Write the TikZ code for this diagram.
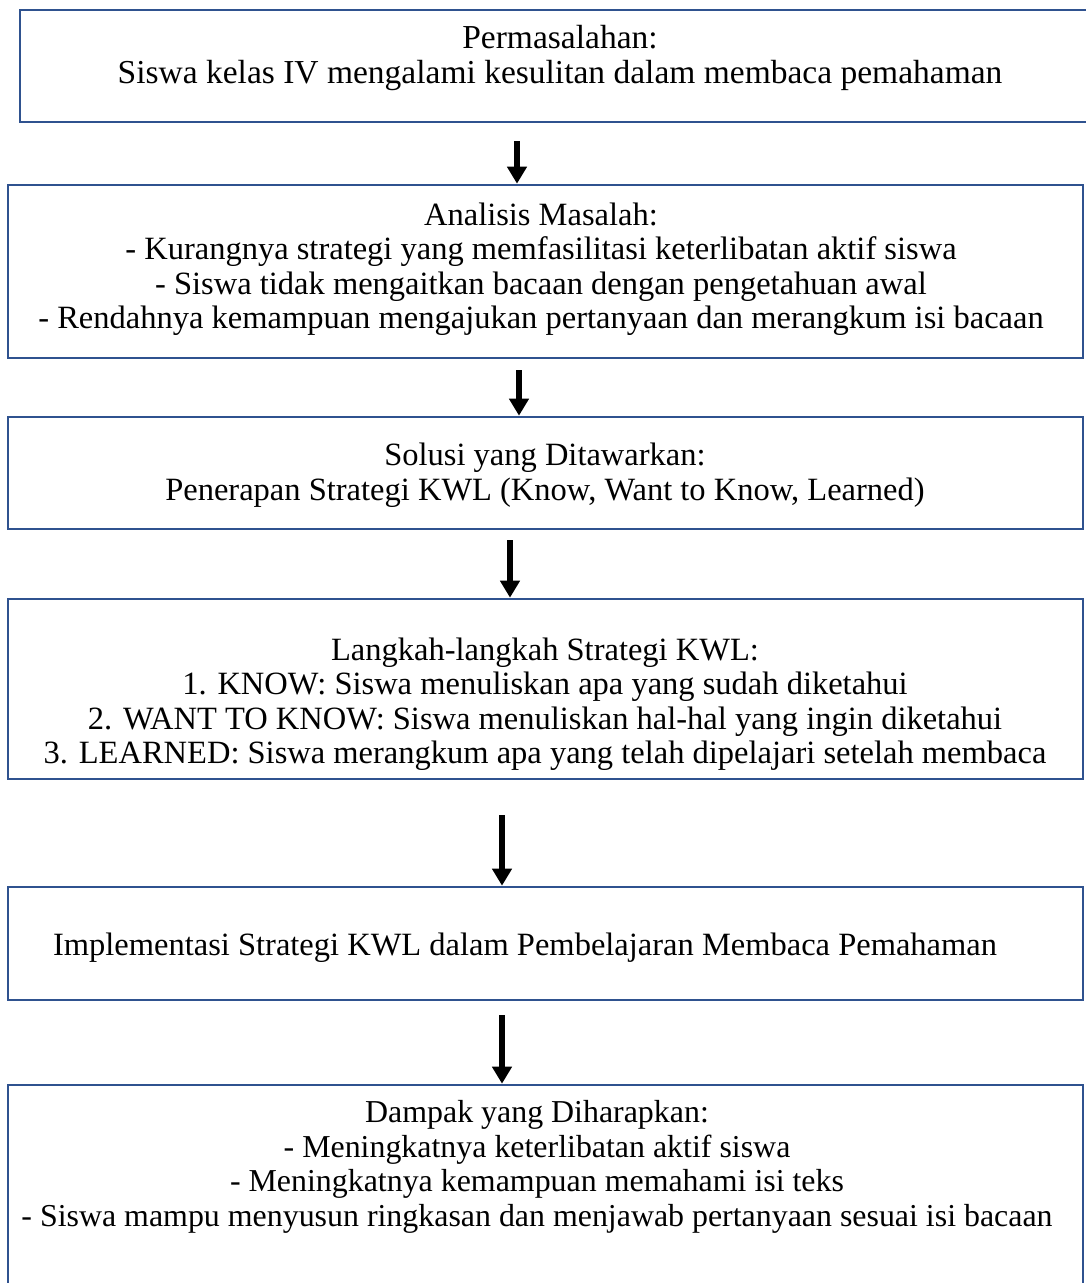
\documentclass[tikz,border=0pt]{standalone}
\usepackage{fontspec}
\setmainfont{Liberation Serif}
\usetikzlibrary{arrows.meta}
\definecolor{boxblue}{HTML}{2F528F}
\begin{document}
\begin{tikzpicture}[x=1pt,y=-1pt,
  boxframe/.style={draw=boxblue,line width=2.6pt,inner sep=0pt},
  boxtext/.style={align=center,inner sep=0pt,font=\fontsize{32.5}{34.5}\selectfont},
  arr/.style={line width=5.5pt,-{Triangle[width=19pt,length=17pt]}}]
\useasboundingbox (0,0) rectangle (1086,1283);
\begin{scope}
\clip (0,0) rectangle (1086,1283);
% boxes
\node[boxframe,minimum width=1075pt,minimum height=112pt] (b1) at (557.5,66) {};
\node[boxframe,minimum width=1075pt,minimum height=173pt] (b2) at (545.5,271.5) {};
\node[boxframe,minimum width=1075pt,minimum height=112pt] (b3) at (545.5,473) {};
\node[boxframe,minimum width=1075pt,minimum height=180pt] (b4) at (545.5,689) {};
\node[boxframe,minimum width=1075pt,minimum height=113pt] (b5) at (545.5,943.5) {};
\node[boxframe,minimum width=1075pt,minimum height=260pt] (b6) at (545.5,1215) {};
\end{scope}
% texts
\node[boxtext,font=\fontsize{33.5}{34.5}\selectfont] (t1) at (560,58) {Permasalahan:\\Siswa kelas IV mengalami kesulitan dalam membaca pemahaman};
\node[boxtext] (t2) at (541,269) {Analisis Masalah:\\- Kurangnya strategi yang memfasilitasi keterlibatan aktif siswa\\- Siswa tidak mengaitkan bacaan dengan pengetahuan awal\\- Rendahnya kemampuan mengajukan pertanyaan dan merangkum isi bacaan};
\node[boxtext] (t3) at (545,475) {Solusi yang Ditawarkan:\\Penerapan Strategi KWL (Know, Want to Know, Learned)};
\node[boxtext] (t4) at (545,704) {Langkah-langkah Strategi KWL:\\1. KNOW: Siswa menuliskan apa yang sudah diketahui\\2. WANT TO KNOW: Siswa menuliskan hal-hal yang ingin diketahui\\3. LEARNED: Siswa merangkum apa yang telah dipelajari setelah membaca};
\node[boxtext] (t5) at (525,948) {Implementasi Strategi KWL dalam Pembelajaran Membaca Pemahaman};
\node[boxtext,font=\fontsize{31.9}{34.5}\selectfont] (t6) at (537,1167) {Dampak yang Diharapkan:\\- Meningkatnya keterlibatan aktif siswa\\- Meningkatnya kemampuan memahami isi teks\\- Siswa mampu menyusun ringkasan dan menjawab pertanyaan sesuai isi bacaan};
% arrows
\coordinate (a1) at (517,141);
\coordinate (a2) at (519,370);
\coordinate (a3) at (510,540);
\coordinate (a4) at (502,815);
\coordinate (a5) at (502,1015);
\draw[arr] (a1) -- (a1 |- b2.north);
\draw[arr] (a2) -- (a2 |- b3.north);
\draw[arr] (a3) -- (a3 |- b4.north);
\draw[arr] (a4) -- (a4 |- b5.north);
\draw[arr] (a5) -- (a5 |- b6.north);
\end{tikzpicture}
\end{document}
